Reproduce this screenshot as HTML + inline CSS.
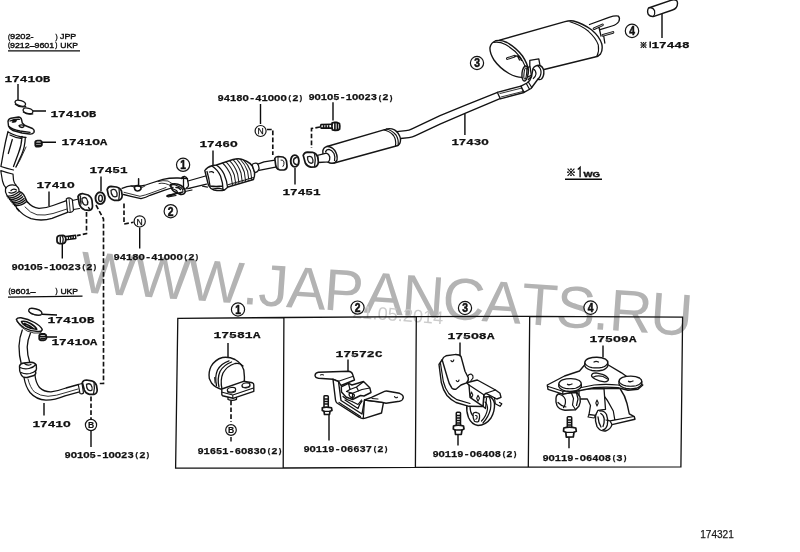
<!DOCTYPE html>
<html><head><meta charset="utf-8"><title>174321</title>
<style>
html,body{margin:0;padding:0;background:#fff;}
body{width:800px;height:552px;overflow:hidden;position:relative;font-family:"Liberation Sans",sans-serif;}
svg{position:absolute;left:0;top:0;display:block;will-change:transform}
.pn{font-family:"Liberation Mono",monospace;font-weight:bold;font-size:9.2px;fill:#111;stroke:#111;stroke-width:0.25px;}
.sm{font-family:"Liberation Sans",sans-serif;font-size:7.9px;fill:#111;stroke:#111;stroke-width:0.4px}
.pr{font-family:"Liberation Sans",sans-serif;font-size:6.4px;fill:#111;stroke:#111;stroke-width:0.35px}
.wm{font-family:"Liberation Sans",sans-serif;font-size:59px;fill:#b3b3b3;}
.dt{font-family:"Liberation Sans",sans-serif;font-size:18.2px;fill:#cbcbcb;}
.cn{font-family:"Liberation Sans",sans-serif;font-weight:bold;font-size:12px;fill:#111;stroke:#111;stroke-width:0.55px;text-anchor:middle}
.ln{fill:none;stroke:#111;stroke-width:1.2;stroke-linecap:round;stroke-linejoin:round}
.lt{fill:none;stroke:#1c1c1c;stroke-width:0.9;stroke-linecap:round;stroke-linejoin:round}
.wf{fill:#fff;stroke:#151515;stroke-width:1.1;stroke-linecap:round;stroke-linejoin:round}
.ld{fill:none;stroke:#0a0a0a;stroke-width:1.4}
.ds{fill:none;stroke:#111;stroke-width:1.65;stroke-dasharray:4.7 2.2}
.bx{fill:none;stroke:#111;stroke-width:1.3}
</style></head><body>
<svg width="800" height="552" viewBox="0 0 800 552">
<rect width="800" height="552" fill="#fff"/>
<!-- watermark -->
<g transform="rotate(4.1 84 292.5)">
<text class="wm" x="79.2 133.3 187.0 242.0 257.9 286.4 323.4 364.1 401.4 442.1 482.4 521.4 556.3 593.2 609.5 650.5" y="292.5">WWW.JAPANCATS.RU</text>
</g>
<text class="dt" x="352" y="317.7" transform="rotate(4.1 352 317.7)">21.05.2014</text>
<!-- boxes -->
<path class="bx" d="M177.8 318.4L284 317.5L416.3 316.6L529.7 316.4L682.6 317.1L680.9 466.9L528.3 467.2L415.4 467.3L283.2 468L175.6 468.2ZM283.9 317.5L283.2 468M416.3 316.6L415.4 467.3M529.7 316.4L528.3 467.2"/>
<!-- leaders -->
<path class="ld" d="M18 84V100M33 111H46M41.5 142.3H56M49 191.5V206M101 176.5V191M62.3 244V258.6M139.7 227.5V248.5M213 150.5V166M260.5 104V124M333 102.2V120.5M295 168V184.5M464.9 113.6V135M662 14V38M42 314.3L57 315M47 337H57M44 403V415.5M91 431V447M228 343V358M231 437V441.5M348 359.5V372.5M329 414V440.5M460 342.5V355.5M458 434V445.5M603 345.5V357.5M569 437V448.2"/>
<!-- dashed lines -->
<path class="ds" d="M86.5 212V233.6L77 235.6"/>
<path class="ds" d="M96 205L103.5 219V383.5H98"/>
<path class="ds" d="M124 203.5V224L133.5 222.3"/>
<path class="ds" d="M267 129.5H272.8V155"/>
<path class="ds" d="M320 127L311.5 128.5V148"/>
<path class="ds" d="M91 396.5V419"/>
<path class="ds" d="M231 400.5V422"/>
<!-- callout circles -->
<g class="wf" style="stroke-width:1.2">
<circle cx="183.1" cy="164.8" r="6.6"/><circle cx="170.7" cy="211.2" r="6.6"/>
<circle cx="477" cy="63" r="6.6"/><circle cx="632" cy="30.9" r="6.7"/>
<circle cx="238" cy="309.5" r="6.6"/><circle cx="357.5" cy="307.6" r="6.6"/>
<circle cx="465" cy="308" r="6.6"/><circle cx="590.6" cy="307.6" r="6.7"/>
<circle cx="139.7" cy="221.4" r="5.6"/><circle cx="260.6" cy="131" r="5.5"/>
<circle cx="91" cy="425" r="5.6"/><circle cx="231" cy="430" r="5.3"/>
</g>
<g class="cn">
<text transform="translate(183.1 169.15) scale(0.86 1)" x="0" y="0">1</text>
<text transform="translate(170.7 215.54999999999998) scale(0.86 1)" x="0" y="0">2</text>
<text transform="translate(477 67.35) scale(0.86 1)" x="0" y="0">3</text>
<text transform="translate(632 35.25) scale(0.86 1)" x="0" y="0">4</text>
<text transform="translate(238 313.85) scale(0.86 1)" x="0" y="0">1</text>
<text transform="translate(357.5 311.95000000000005) scale(0.86 1)" x="0" y="0">2</text>
<text transform="translate(465 312.35) scale(0.86 1)" x="0" y="0">3</text>
<text transform="translate(590.6 311.95000000000005) scale(0.86 1)" x="0" y="0">4</text>
<text x="139.7" y="224.5" style="font-size:8.6px;font-weight:normal;stroke-width:0.25px">N</text>
<text x="260.6" y="134.1" style="font-size:8.6px;font-weight:normal;stroke-width:0.25px">N</text>
<text x="91" y="428.2" style="font-size:8.6px;stroke-width:0.2px">B</text>
<text x="231" y="433.2" style="font-size:8.6px;stroke-width:0.2px">B</text>
</g>

<!-- upper gasket rings 17410B -->
<g class="wf" style="stroke-width:1.3">
<ellipse cx="20.3" cy="103.2" rx="5.4" ry="2.6" transform="rotate(18 20.3 103.2)"/>
<ellipse cx="28" cy="110.8" rx="5" ry="2.6" transform="rotate(15 28 110.8)"/>
</g>
<path class="ln" style="stroke-width:1.2" d="M15.3 104.3Q19.5 108 25.8 106.6M23.3 112Q27.5 115.3 32.8 113.8"/>
<!-- nut 17410A -->
<path class="wf" style="stroke-width:1.9" d="M35.3 142.2Q35.3 140.6 37.5 140.6H40.5Q42 141 41.8 143V145.2Q41 146.8 38.5 146.6H36.2Q35 146 35.3 144Z"/>
<path class="ln" style="stroke-width:1.4" d="M36 143.2H41.5M36.5 145.3H40.5"/>
<!-- manifold flange -->
<path class="wf" style="stroke-width:1.4" d="M8 121.5Q8.5 118.8 11 118.3L18.5 117Q21 117.2 21.5 119.5L22.3 123Q24 125.5 27.5 126.5L32.5 128.5Q34.8 130 34 132.3Q32.5 134.5 29.5 134L22 133L13 130.5Q9.5 129 8.5 126Z"/>
<path class="ln" style="stroke-width:1.3" d="M12.3 122Q13.5 120.3 16.3 120.6Q15.8 122.6 12.3 122ZM19 125.8Q20.5 124.2 24 125.3Q24.5 127 22 127.5Q19.5 127.3 19 125.8ZM9 126.5Q12 129.5 20 131L30 132.3M10 121Q14 119 19.5 119.3"/>
<!-- down pipes -->
<path class="ln" style="stroke-width:1.3" d="M8 131.5Q5.5 141 3.5 152L1 166M12.3 139.5L8.3 153.5M22 136.5Q21.5 146 18.5 153L13.5 166.5M25.3 137.5Q25 147 21.5 155L16 167M9 132.5Q16 136.5 26 137.5M10 135Q16 138.2 22 138.5"/>
<path class="ln" d="M1 166.5Q7 168.5 13.5 170M0.8 170.5Q6 172.5 12.5 174M0.8 171L2.5 181Q3.5 185.5 6 188M13 174L13.5 180Q14 183 16 185"/>
<path class="lt" d="M16 167L20 160L26 147"/>
<!-- flex joint -->
<path class="ln" style="stroke-width:1.3" d="M5.5 188.5Q9 183.5 16 185.5Q19.5 188 19 191.5M5.5 189Q4.8 192 7 195.5Q12 201 16 206.5M19 191.5Q23 192.5 25 197L27.5 202.5M7 196Q13 196.5 18.5 192M9.5 199.5Q16 200 21.5 195M12 202.5Q18.5 203.5 24 198.5M14.5 205.5Q21 206.5 26.5 201.5M16 206.5Q16.5 209 19 211M11 190.5Q13.5 188 16.5 190M8 197.8Q14.5 198.3 20 193.5M10.7 201Q17.2 201.8 22.7 196.8M13.2 204Q19.8 205 25.2 200M9 192.5Q12 194 16 191.5"/>
<!-- curved pipe -->
<path class="ln" style="stroke-width:1.3" d="M17.5 208.5Q22 215 31 218.7Q42 221.5 52 218.3L67.5 212.3M27.5 202Q32 207.5 39 208.3Q46 208.3 53 205.5L66.5 200.6"/>
<path class="lt" d="M25 207Q30 213 37 214.8Q45 215.8 53 213.5L67 209"/>
<!-- collar + neck -->
<path class="wf" style="stroke-width:1.2" d="M66.3 199Q68 197.5 70 198L72.3 199.5L73.5 210.5Q72 212.5 69.5 212.5L67.5 211.8Z"/>
<path class="lt" d="M69 198.3L70.3 212.3"/>
<path class="ln" d="M72.5 200.5L78.5 199M73.5 209.5L79.5 208.5"/>
<!-- flange -->
<path class="wf" style="stroke-width:1.7" d="M78 196.5Q79.5 193.5 83 193.7L88 195Q91.5 197 92 200.5L92.5 206Q92.5 210 89 210.3L84.5 209.8Q80.5 208 79.3 204Z"/>
<path class="lt" style="stroke-width:1.3" d="M82 198.5Q84.5 196.5 86.5 198.5Q88.5 201.5 87.5 204.5Q85.5 206 83.5 204Q81.5 201.5 82 198.5M80.5 196Q80 200 81 204M88.5 207.5L90 209.5"/>
<!-- ring gasket 17451 (left) -->
<ellipse class="wf" style="stroke-width:1.9" cx="100.2" cy="198.2" rx="4.7" ry="5.9"/>
<ellipse class="lt" style="stroke-width:1.4" cx="100.5" cy="198.3" rx="1.9" ry="3.2"/>
<!-- bolt 90105 (left) -->
<path class="wf" style="stroke-width:1.8" d="M57 238.3Q57 236 59.3 235.6L63 235.4Q65.5 236 65.8 238.5L65.6 241.3Q64.8 243.6 62.5 243.6H59.5Q57 243.2 57 240.8Z"/>
<path class="ln" style="stroke-width:1.3" d="M60.3 237V242.3M62.5 236.5Q63.8 238.5 62.8 242.5"/>
<path class="ln" style="stroke-width:1.4" d="M66 236.4L75.6 235.2L75.8 238.5L66 239.9M68.5 236.2V239.5M70.8 236V239.2M73.2 235.7V238.9"/>

<!-- middle pipe -->
<path class="wf" style="stroke-width:1.7" d="M107.2 189.5Q108 186.5 111 186.3L116.5 187Q120.5 188 121.5 191L122.2 195.5Q122 199.5 118.5 200.3L114 200.3Q110 199 108.5 195.5Z"/>
<path class="lt" style="stroke-width:1.3" d="M111 190.5Q113.5 188.5 115.8 190.3Q117.8 193 117 196Q115 197.8 112.8 196Q110.8 193.5 111 190.5M119 188.5Q120 194 118.8 199.5"/>
<path class="ln" style="stroke-width:1.3" d="M122 188.3Q127 186 132 185.8L141 186Q146 185.3 150 183.5L163 179.3Q170 177.8 178 178L187.5 178.6M123.5 194.5L131 196.3L141 198.6Q146 197.5 150 195.3L164 190.3L173 187.5"/>
<path class="lt" d="M124 192.3L140 196.3Q146 195 151 193L166 187.5M158 181.5Q163 180 168 181Q171 183.5 175 184.5M159 183.5Q165 182 172 186.5"/>
<!-- hanger post -->
<path class="ln" style="stroke-width:1.5" d="M138.6 178.8V186M134.5 187.5Q135 185 138.5 185.5Q141.5 186.3 141 189Q139.5 191.3 136.5 190.8Q134.3 190 134.5 187.5"/>
<path class="lt" d="M131 185.8L134.5 187.5M141 188L145 186"/>
<!-- bracket 2 -->
<path class="ln" style="stroke-width:1.2" d="M170 186Q172 184 175.5 185L181 187.5Q183.5 189.5 183 192L180 193.5M172 188.5L176.5 190.5Q178 192 177 193.5M167.5 196.3Q167 195 168.5 195L175 193.8L183 191.8M168 197L176 195.5M183.5 189L190 188.5M185 191.5L192 190"/>
<path class="ln" style="stroke-width:1.5" d="M170.5 184.5Q176 182.8 181 185.5Q185 188 185.3 192Q184 195 180.5 194.5L174 191.5Q171 189.5 170.5 184.5M176 187.5Q179 187 180.5 189.5"/>
<path class="ln" style="stroke-width:2.2" d="M167.3 196L174.5 194.3"/>
<!-- clamp -->
<path class="ln" style="stroke-width:1.3" d="M181.5 178.5Q182 176.3 184.5 176.5Q187 177 187.5 179.5L188.5 185Q188.5 187.5 186.5 188M183.5 177V188.5"/>
<!-- pipe to converter -->
<path class="ln" style="stroke-width:1.3" d="M188 181L205.5 176M188.8 188.3L206.5 184.2"/>
<path class="lt" style="stroke-width:1.2" d="M202.5 186.2L207.5 187.2"/>

<!-- catalytic converter -->
<path class="wf" style="stroke-width:1.4" d="M204.8 170.5Q207 167 212 165.7L216.5 165L233 159.5Q238 158.3 241.5 159.2L247 161.5Q250.5 163 252.5 166.5L254.5 172Q255 176 253.5 179.5L228 187L224.5 190Q220 191.3 214 190Q210 188.5 208.5 185.5Z"/>
<path class="ln" style="stroke-width:1.3" d="M216.5 165.3Q221 168 224 174Q227 181 227.5 187M212 166Q217.5 169.5 220.5 176Q223 183 223 189.5M207 171.5Q209 178 210 186M209.5 172Q212 171 213.5 172.5M210 186Q216 187 222.5 186M213 189Q218 187.5 224 189.5"/>
<path class="lt" style="stroke-width:1.05" d="M222.5 163Q228 168 231 176L232.5 185M226 161.8Q231.5 167 234.3 175L235.8 184M229.5 160.7Q235 166 237.6 174L239 183.2M233 159.7Q238.3 165 241 173L242.3 182.3M236.5 159Q241.7 164.3 244.3 172L245.6 181.4M240 159Q245 164 247.6 171.3L248.9 180.5M243.5 160.2Q248 164.5 250.6 171L251.8 179.8M228 184.8L253.5 177.5"/>
<!-- outlet cone and pipe -->
<path class="wf" style="stroke-width:1.3" d="M252 164.5Q254.5 162.5 257 163.3Q259.3 165.5 259 169Q258 172 255.5 172.5L254.5 172Z"/>
<path class="ln" style="stroke-width:1.3" d="M258.5 163.8L264 161.8L275 160.2M259 170.3L275.5 167.2"/>
<path class="wf" style="stroke-width:1.7" d="M274.8 158.5Q275.5 156.5 278 156.5L283 157Q285.8 158 286.5 161L287 166Q287 169.5 284 170L279.5 169.8Q276.5 169 275.8 166Z"/>
<path class="lt" style="stroke-width:1" d="M278 157V169.5M281 160Q283.3 159.5 284 162Q284.3 165 283 166.5"/>
<!-- ring gasket 17451 (right) -->
<ellipse class="wf" style="stroke-width:1.9" cx="294.8" cy="161" rx="4.1" ry="5.9"/>
<path class="lt" style="stroke-width:1.4" d="M296.3 157.5Q293.5 158 293.5 161Q293.5 164 296.3 164.5"/>

<!-- bolt 90105 (right) --><g transform="translate(0.6 0.5)">
<path class="wf" style="stroke-width:1.8" d="M331.5 122.5Q333 121.6 336.5 122L338.8 123Q339.5 125.5 339 128.5Q337.5 130 334.5 129.8L331.8 129.3Q331 126 331.5 122.5Z"/>
<path class="ln" style="stroke-width:1.6" d="M334.3 122V129.8M336.8 122.5V129.5M331.3 123.8L320.5 124Q319.3 125.8 320.5 127.6L331.3 127.6M323 124V127.6M325.5 124V127.6M328 124V127.6"/>
</g><!-- resonator body -->
<path class="wf" style="stroke-width:1.4" d="M327 146.5L385.5 129.3Q390 127.8 394.5 129.8Q399.5 133 400.5 139Q400.8 143.5 398 145.5L336 162.5Q331.5 163.8 328 161.5Z"/>
<path class="wf" style="stroke-width:1.4" d="M322.8 151Q323.5 147.3 327 146.5Q331.5 146.3 334.8 150.5Q337.8 155 337 160Q335.8 163 332 163.3Q327.5 163 324.8 159Q322.3 155 322.8 151Z"/>
<path class="ln" style="stroke-width:1.2" d="M325.5 152Q326.3 149.3 329 149.3Q332 150 334 153.5Q335.6 157.5 334.5 160.5M384 130Q389.5 131 393.5 135.5Q396.5 140 395.5 146M386.5 129Q392 130.3 396 135Q399 139.5 398 145.5"/>
<!-- neck + flange -->
<path class="wf" style="stroke-width:1.3" d="M317.5 155.3L326.5 153.2Q329 154 329.8 157Q330 160.3 328.5 161.8L318.5 162.5Z"/>
<path class="wf" style="stroke-width:1.7" d="M303.2 155.3Q304.3 152.5 307.5 152.2L312.5 152.3Q316.5 153.3 317.7 157L318.3 161.5Q318.3 166 315 166.8L311 167.2Q307 166.3 305.3 163Z"/>
<path class="lt" style="stroke-width:1.3" d="M307.5 157Q310 155.5 312 157.5Q313.5 160 312.8 162.5Q311 164 309 162.3Q307.3 160 307.5 157M314.5 153.5Q316 159.5 314.5 166.5"/>

<!-- long tail pipe 17430 -->
<path class="ln" style="stroke-width:1.3" d="M396.5 131.6L406 130.6Q409 130.3 412 128.8L440 115.6L465 105.4L497.5 92.3M400.6 138.5L409 137.6Q412.5 137.2 415.5 135.6L440 124.2L465 113.4L500 98.6"/>
<path class="wf" style="stroke-width:1.3" d="M497.3 92.3L521 86.2L524 92.5L500.3 98.8Z"/>
<path class="lt" d="M500 93.5L522 88M501 97L523.5 91.3"/>


<!-- rear muffler -->
<path class="ln" style="stroke-width:1.3" d="M589.5 24.5L609 17.3Q615.5 15.3 618.5 16.2Q620.3 18 618.8 21.5Q617 24.5 612 26L600 29.7"/>
<path class="ln" style="stroke-width:2.6" d="M594 28.7L602.5 24.9M603 35.3L613 32.4"/>
<path style="fill:none;stroke:#fff;stroke-width:0.7;stroke-linecap:round" d="M594 28.7L602.5 24.9M603 35.3L613 32.4"/>
<path class="ln" style="stroke-width:1.3" d="M599 27.5L601 36M603.8 36.5L604.8 43"/>
<path class="wf" style="stroke-width:1.4" d="M499.5 40.2L565 21.7Q569.5 20.4 573.5 21Q583 23.6 591.5 29.8Q599.5 36.5 601.8 44Q603 50 600.5 54Q598.5 56.5 595 57L540 70.5L528 77Z"/>
<path class="ln" style="stroke-width:1.1" d="M570 21.8Q580 24.6 588.5 31.3Q596 38 598.3 45Q599.3 51 597 56"/>
<path class="wf" style="stroke-width:1.4" d="M490 47.5Q491 42.5 495.5 40.8Q500.5 39.5 507 42.5Q516 47.5 522.5 56Q527.5 63.5 528.5 70.5Q528.5 76 524 77.3Q517 78 509 73.5Q499.5 68 494 60Q489.5 53 490 47.5Z"/>
<path class="ln" style="stroke-width:1.1" d="M493.5 42.5Q499 41.3 505.5 44.5Q514.5 49.5 520.5 57.5Q525.5 65 526.3 72"/>
<path class="ln" style="stroke-width:2.6" d="M507.3 58.6L514.5 56.2"/>
<path style="fill:none;stroke:#fff;stroke-width:0.7;stroke-linecap:round" d="M507.3 58.6L514.5 56.2"/>
<path class="ln" style="stroke-width:1.3" d="M514.5 56.2L518.5 55.8Q520.5 57.5 521.5 60.5M517.5 56L519.5 60"/>
<!-- inlet elbow + clamp -->
<path class="wf" style="stroke-width:1.3" d="M529.8 66V60.3L538.8 58.8L540 65.5"/>
<path class="wf" style="stroke-width:1.4" d="M533 68.5Q535 65.3 539 65.3Q543 66.3 543.8 71Q544.2 76 541.5 79Q539.5 80.3 538 79L531 88.5L524 92.3L521 86.2L527 83Q530.5 80.5 531.5 76.5Z"/>
<path class="ln" style="stroke-width:1.2" d="M538 66Q541.3 68.5 541 73Q540.5 77.5 538 79M533.5 69Q536 70.5 536 74Q535.5 77 533.3 78.5M528.5 82.3L531.8 87.5M526.3 83.5L529.5 89.3"/>
<ellipse class="wf" style="stroke-width:1.4" cx="525" cy="73.5" rx="3" ry="7.6" transform="rotate(6 525 73.5)"/>
<ellipse class="ln" style="stroke-width:1.1" cx="525.3" cy="73.5" rx="1.3" ry="5.6" transform="rotate(6 525.3 73.5)"/>
<path class="ln" style="stroke-width:1.3" d="M527.8 67.5L530 66.5L531.5 76.5L528.3 79.5"/>

<!-- tail pipe tip 17448 -->
<path class="wf" style="stroke-width:1.4" d="M648.5 8L671 0.3Q675 -0.8 677 1Q678.3 4 676.3 7.5Q675 9.3 672.5 10L654 16.3Q650.5 17 648.3 14.5Q646.8 11 648.5 8Z"/>
<path class="ln" style="stroke-width:1.2" d="M649.5 7.7Q653 7.3 654.6 10.8Q655.3 14.3 653.5 16.3"/>

<!-- lower pipe (9601-) -->
<ellipse class="wf" style="stroke-width:1.4" cx="35.3" cy="311.8" rx="6.8" ry="2.9" transform="rotate(16 35.3 311.8)"/>
<path class="lt" d="M29.5 312.5Q34 316 41 315"/>
<path class="wf" style="stroke-width:1.9" d="M39.3 335.5Q39.5 334 41.5 334H44.5Q46.3 334.5 46.3 336.3V338.5Q45.5 340.5 43.5 340.3H41Q39 339.8 39.3 337.5Z"/>
<path class="ln" style="stroke-width:1.5" d="M40 336.5H46M41 338.6H45"/>
<!-- pipe down -->
<path class="ln" style="stroke-width:1.3" d="M22.3 330Q19.5 337 19 346Q19 356 21.3 364M30.5 333Q27.5 340 27.2 347Q27.3 356 29.8 362.5"/>
<!-- flange -->
<path class="wf" style="stroke-width:1.4" d="M16.3 319.3Q17.5 317.5 21 317.8Q28 319 34.5 322.5Q40.5 326 42.2 329.3Q41.8 331.8 38 331.5Q31 331.5 24.5 328Q18 324 16.3 319.3Z"/>
<path class="ln" style="stroke-width:1.5" d="M21.5 321.5Q25 320.5 30.5 323.5Q35.5 326.5 36.8 329.3Q32 329.5 26.5 326.5Q22 323.8 21.5 321.5M24.5 323.5Q29 325 33.5 328.5"/>
<path class="lt" d="M17 321.5Q20 327 27 331Q34 334 40.5 333L42 330"/>
<!-- flex joint -->
<path class="wf" style="stroke-width:1.4" d="M19.5 366Q20.5 363.3 24 363L31 362.3Q35 362.5 36.3 365.5Q37 369 35.5 371.5Q36.5 374 34 375.5L27 377.5Q23 378 21.3 375Q19 371 19.5 366Z"/>
<path class="ln" style="stroke-width:1.2" d="M20 367.5Q24 369.5 29 368.5Q33.5 367.5 36 364.5M21 372.5Q25 374.5 30 373.5Q34 372.5 35.8 370.5M24.5 363.5Q27 366 31 364.5"/>
<!-- curved pipe -->
<path class="ln" style="stroke-width:1.3" d="M24 377.5Q25.5 386.5 30 392.5Q36 399.5 46 400.2Q55 400 65 395.8L79.5 391.8M35 375.3Q35.8 383 39.5 387.5Q44 392 51 391.8Q58 391 66 388L78.5 384.5"/>
<path class="lt" d="M28 379Q30 387.5 34.5 392Q40 396 48 396.3Q56 396 66 392.5L78 389"/>
<path class="wf" style="stroke-width:1.2" d="M78.3 384.5L82 383.5L83.5 393Q82 394.5 80 393.5Z"/>
<path class="wf" style="stroke-width:1.7" d="M82.3 382.5Q83.3 380 86.5 380L91.5 380.8Q95.5 382 96.5 385.5L97.2 390Q97 393.8 94 394.3L89.5 394.3Q85.5 393.5 84.3 390Z"/>
<path class="lt" style="stroke-width:1.3" d="M86.5 384.5Q89 382.8 91 384.8Q92.8 387.5 92 390Q90 391.5 88 389.8Q86.3 387.5 86.5 384.5M94 382Q95 388 93.5 394"/>

<!-- box1: clamp 17581A -->
<path class="wf" style="stroke-width:1.4" d="M209.3 378.5Q208.3 372 211 366.5Q215 359.5 222.5 357.5Q229 356.5 235 359.5Q241.5 363 243.8 370Q244.8 377 244.3 384L222 389.5Q215 387.5 211.5 383Z"/>
<path class="ln" style="stroke-width:1.3" d="M216.5 385.5Q214.5 377 217.5 370Q221 363.5 229 360.8M219 387Q217 378.5 220 371.5Q223.5 365 231.5 362M222 389Q220 380 223 373Q227 366 235 363.5Q240 362.5 243 366"/>
<path class="lt" d="M214.5 377.5L215 383"/>
<!-- base plate -->
<path class="wf" style="stroke-width:1.4" d="M221.8 389L243.5 381.3L252.5 382.8Q253.8 383.3 253.8 385V391.3L233 398.3L222.5 395.8Q221.5 395 221.8 393Z"/>
<path class="ln" style="stroke-width:1.1" d="M222.3 392.3L232.8 395L253.5 388M232.8 395V398"/>
<ellipse class="wf" style="stroke-width:1.2" cx="231.5" cy="389.8" rx="4.2" ry="2.3" transform="rotate(-8 231.5 389.8)"/>
<ellipse class="wf" style="stroke-width:1.2" cx="246" cy="385.2" rx="4" ry="2.2" transform="rotate(-8 246 385.2)"/>
<path class="lt" d="M227.5 390.5V392.3Q231 394.3 235.5 391.8V389.8M242.2 385.8V387.3Q245.5 389.2 249.8 387V385"/>
<path class="ln" style="stroke-width:1.3" d="M228 397.5V399.5Q232.5 401.3 236.5 399.3V397.5"/>

<!-- box2: bracket 17572C -->
<path class="wf" style="stroke-width:1.4" d="M315 375.5Q315.3 372.8 318.5 372.3L348.5 371.3Q351.5 371.5 352.5 374L354.5 380L341 385.5L338.5 381.3L333 379.2L318.5 378.3Q315.3 378 315 375.5Z"/>
<path class="lt" style="stroke-width:1.1" d="M320.5 375Q322 374 323.5 375M338.5 381.3L352.5 376.5"/>
<path class="wf" style="stroke-width:1.4" d="M333 379.3L338.5 381.5L341 400.5L362 414L364.5 400L383.5 402.3L381.5 413L364.5 418.3Q361.5 418.8 359.5 417.3L337 403Q335.8 402 335.5 400Z"/>
<path class="ln" style="stroke-width:1.2" d="M364.5 400L363.3 418.3M339 402.5L360.5 416.5M345 400L358 408.5Q359.5 404 362 401"/>
<!-- rubber block -->
<path class="wf" style="stroke-width:1.4" d="M341.3 386.8L348.5 383.3L352 385L363.5 381.5L369.8 387.8L371 392.5L364 396L360.5 395.5L352.5 399.5L346 397L341.5 392Z"/>
<path class="ln" style="stroke-width:1.2" d="M348.5 383.5L350 389.5L346.5 391.5L352.5 393.3L362 389.5L369.8 388M352.5 393.3V399.3M350 389.5L356.5 387L363.5 381.8M356.5 387L358.5 391"/>
<path class="ln" style="stroke-width:1.3" d="M349 394Q350 392.8 352 393.3L354 394.3Q354.8 395.5 354 397L351 397.5Q349 396.5 349 394Z"/>
<path class="ln" style="stroke-width:1.2" d="M343 396.5Q347 400.5 352 401.5L358 404.5L361.5 400"/>
<!-- right arm -->
<path class="wf" style="stroke-width:1.4" d="M371.5 397.3L384.5 391.3Q386 390.8 388 391.2L399.5 393.3Q403.3 394.8 403.3 397.5Q403 400.5 399.5 401.3L386 403.3L381.5 402.2L364.5 400Z"/>
<path class="lt" style="stroke-width:1.1" d="M394.5 396.5Q395.5 398.5 397.5 397.2M372 398.5L378 399"/>
<!-- bolt -->
<path class="ln" style="stroke-width:1.5" d="M324 396.5Q324 395.8 325 395.8H327.3Q328.3 395.8 328.3 396.8V407.5M324 396.5V407.5M324 399H328.3M324 401.5H328.3M324 404H328.3"/>
<path class="wf" style="stroke-width:1.7" d="M322.3 407.8Q326 406.3 331.5 407.8L332 410.5L330 411.3L329.5 414.3L324.5 414.5L324 411.3L322.3 410.5Z"/>
<path class="ln" style="stroke-width:1.3" d="M324 411.3H330"/>

<!-- box3: bracket 17508A -->
<!-- rubber ring behind -->
<path class="wf" style="stroke-width:1.4" d="M467 404Q466 411 468.5 417.5Q471.5 424.5 478 425.5Q485.5 425.5 491 418Q495 411 494.5 403.5Q493.5 398.5 489.5 396.5L470 399Z"/>
<path class="ln" style="stroke-width:1.2" d="M485 402Q487.5 404 487.5 409Q486.5 416 481.5 421M489.5 397.5Q491.5 402 490.5 409Q488.5 417 483 423M470 406Q470 412 472.5 415.5"/>
<path class="wf" style="stroke-width:1.3" d="M473 414Q474 411.8 476.5 412.5L479 413.5Q480 415 479.5 418L478.5 421.5Q476.5 422.5 474.5 421.3Q472.8 418 473 414Z"/>
<path class="lt" style="stroke-width:1.1" d="M475.5 415.5Q477 415.3 477.2 417Q477 419 475.8 419.3"/>
<!-- left edge thickness -->
<path class="wf" style="stroke-width:1.4" d="M442.3 359.5L439 364.5L441.3 382.5Q443 390 447 395.5Q450.5 399.5 456 402.5L469 406.3L483 406.5L484 395L470 385Z"/>
<path class="ln" style="stroke-width:1.2" d="M440.5 363.5L443.3 381.5Q445 388.5 448.8 393.5Q452 397 457 399.7L470 403.5"/>
<!-- top plate -->
<path class="wf" style="stroke-width:1.4" d="M442.2 360Q443 356.8 446 355.8L454.5 354.6Q459.5 354.3 461 356.5L465 371.3L468.3 377.8Q468.8 381 466.5 382.8L461 385L456.5 388.8Q454 390 452 388.3Q449 384.5 447.5 378Z"/>
<path class="lt" style="stroke-width:1.2" d="M451 360.5Q451.5 362 453 361.5L453.8 360M456.3 380.5Q457 382 458.5 381.3L459 380"/>
<!-- tab -->
<path class="ln" style="stroke-width:1.2" d="M467.5 376.5Q469 373.5 471.5 374.3Q473.5 375.5 473 378L471 380.5"/>
<!-- horizontal plate + side wall -->
<path class="wf" style="stroke-width:1.4" d="M466.7 382.7L477.3 380L495.5 390L500 393.3L501 397.3L496.8 399L486 393.3L483.8 394.8L483 406.3L470 397.3L469 385Z"/>
<path class="ln" style="stroke-width:1.2" d="M469 385L483.8 394.8M486 393.3L495.5 390M494.5 397.5L495.3 403.8L500 406.3L501.8 403.8L499.5 402.5M483 406.3L485.5 408.5L486.5 398"/>
<path class="lt" style="stroke-width:1.1" d="M471.5 392L472.8 395L471.5 398L470.3 395ZM478 395.3L479.5 398.3L478 401.3L476.7 398.3Z"/>
<!-- bolt -->
<path class="ln" style="stroke-width:1.5" d="M456.3 413Q456.3 412.2 457.3 412.2H459.5Q460.5 412.2 460.5 413.2V425.5M456.3 413V425.5M456.3 415.5H460.5M456.3 418H460.5M456.3 420.5H460.5M456.3 423H460.5"/>
<path class="wf" style="stroke-width:1.7" d="M453.5 426Q458 424.3 463.5 426L464 429L462 430L461.3 434.3L455.5 434.5L455 430L453.3 429Z"/>
<path class="ln" style="stroke-width:1.3" d="M455 430H462"/>

<!-- box4: bracket 17509A -->
<!-- rubber ring right (behind plate) -->
<path class="wf" style="stroke-width:1.4" d="M598 388.5L620 388.5Q625.3 396 627 403.5L629.3 413.8L634.3 416.7L635 419.3L612 424.6Q610.5 429.5 605.5 431Q600 431.5 597 426.5Q594.8 421 595.6 415Q596.5 410.5 599.5 409.2L604.8 408.9Q604 400 598 391Z"/>
<path class="ln" style="stroke-width:1.2" d="M600 390.5Q608 400 613.3 411L614.8 419.8M610 420.9L633.8 416.5M612 424.5L610 420.9L606 420"/>
<path class="ln" style="stroke-width:1.3" d="M599.8 411Q604 410.3 606.5 414.5Q608.5 419.5 607.3 425Q606 429.5 602.8 430M600.8 413.5Q603.5 414.8 604.2 418.8Q604.5 423 603 426.5M598 417Q598.5 423 601 427"/>
<!-- centre bracket -->
<path class="wf" style="stroke-width:1.3" d="M579 389L604 388.5L605.5 409.3L598 410.3L595.5 415.3L589 414.5L590.5 405.5L587.3 399L579 399Z"/>
<path class="lt" style="stroke-width:1.1" d="M597 400L598.3 403L597 406L595.8 403ZM589 414.5L588 417L594 418L595.5 415.3"/>
<!-- left roll -->
<path class="wf" style="stroke-width:1.4" d="M556 398Q556.5 394 560 393.5L577 392.5L580 397Q581 402 579 406L575.5 409.8L565 410.3Q559 409.5 557 405.5Q555.5 402 556 398Z"/>
<path class="ln" style="stroke-width:1.2" d="M559.5 394.5Q563.5 395 565.3 399.5Q566 404.5 563.5 407.5M571.5 393L573.5 398.5L572.5 405L575.5 409.5M576.5 393L578 399L576.5 405.5M558 402.5Q561 406 566 407"/>
<!-- plate -->
<path class="wf" style="stroke-width:1.4" d="M585 364.5L579.5 371L564.5 376L555 381L547.3 385L548 389.3L562.8 394.2L579 390.8L594 387.7Q606 386.5 618 387.7L628 390.2L638 389.2L642.8 385L628 377.5L621.5 372.8L607.5 364.5Z"/>
<path class="ln" style="stroke-width:1.2" d="M547.5 386.3L562.8 391.3L579 388L594 385Q606 383.8 618 385L627 387.3M562.8 391.3V394"/>
<!-- slot -->
<path class="wf" style="stroke-width:1.3" d="M591.5 375.5Q592 372.8 596 372.8L602.5 374.3Q607.5 376.3 608.5 379Q608.5 381.8 604.5 381.8Q599 381.3 595 379Q591.5 377 591.5 375.5Z"/>
<path class="lt" style="stroke-width:1.1" d="M593.5 377Q597.5 375 603 376.5L607.5 379"/>
<!-- pads -->
<path class="wf" style="stroke-width:1.4" d="M584.8 363Q584.8 360 588.5 358.5Q592.5 357.2 597 357.3Q602 357.5 605.5 359.2Q608 360.8 607.8 363V366Q606.5 369 602 370.3Q597 371.3 592 370.5Q586.5 369.3 584.8 366Z"/>
<path class="ln" style="stroke-width:1.1" d="M584.8 363Q586.5 366.5 592 367.6Q597 368.3 602 367.4Q606.5 366.2 607.8 363"/>
<path class="lt" style="stroke-width:1.3" d="M594 362Q596 360.8 598.5 362"/>
<path class="wf" style="stroke-width:1.4" d="M558.8 384.3Q558.8 381.3 562.5 379.8Q566.5 378.5 571 378.6Q576 378.8 579.3 380.5Q581.5 382 581.3 384.3V386.5Q580 389.5 575.5 390.8Q570.5 391.8 565.5 391Q560.5 389.8 558.8 386.5Z"/>
<path class="ln" style="stroke-width:1.1" d="M558.8 384.3Q560.5 387.3 565.5 388.4Q570.5 389.1 575.5 388.2Q580 387 581.3 384.3"/>
<path class="lt" style="stroke-width:1.3" d="M567.5 384.3Q569.5 385.3 572 384"/>
<path class="wf" style="stroke-width:1.4" d="M619 381.5Q619 378.7 622.5 377.3Q626.5 376 631 376.1Q636 376.3 639.5 378Q642 379.5 641.8 381.8V384Q640.5 387 636 388.3Q631 389.3 626 388.5Q620.8 387.3 619 384Z"/>
<path class="ln" style="stroke-width:1.1" d="M619 381.5Q620.8 384.8 626 385.9Q631 386.6 636 385.7Q640.5 384.5 641.8 381.8"/>
<path class="lt" style="stroke-width:1.3" d="M628.5 381.3Q630.5 382.3 633 381"/>
<!-- bolt -->
<path class="ln" style="stroke-width:1.5" d="M567.3 417.5Q567.3 416.7 568.3 416.7H570.7Q571.7 416.7 571.7 417.7V427.5M567.3 417.5V427.5M567.3 420H571.7M567.3 422.5H571.7M567.3 425H571.7"/>
<path class="wf" style="stroke-width:1.7" d="M563.8 428Q569 426.3 575.8 428L576.3 431.3L574 432.3L573.3 437L566.3 437.2L565.8 432.3L563.5 431.3Z"/>
<path class="ln" style="stroke-width:1.3" d="M565.8 432.3H574"/>

<!-- labels -->
<text class="pn" x="4.4" y="81.6" textLength="38.5" lengthAdjust="spacingAndGlyphs">1741O</text>
<text class="pn" x="43.1" y="81.6" textLength="7.2" lengthAdjust="spacingAndGlyphs" style="font-size:8.7px">B</text>
<text class="pn" x="50.4" y="116.6" textLength="38.5" lengthAdjust="spacingAndGlyphs">1741O</text>
<text class="pn" x="89.1" y="116.6" textLength="7.2" lengthAdjust="spacingAndGlyphs" style="font-size:8.7px">B</text>
<text class="pn" x="61.4" y="144.9" textLength="38.5" lengthAdjust="spacingAndGlyphs">1741O</text>
<text class="pn" x="100.1" y="144.9" textLength="7.2" lengthAdjust="spacingAndGlyphs" style="font-size:8.7px">A</text>
<text class="pn" x="36.4" y="187.9" textLength="38.2" lengthAdjust="spacingAndGlyphs">1741O</text>
<text class="pn" x="89.4" y="173.4" textLength="38.2" lengthAdjust="spacingAndGlyphs">17451</text>
<text class="pn" x="11.4" y="269.6" textLength="69.3" lengthAdjust="spacingAndGlyphs">9O1O5-1OO23</text>
<text class="pn" x="81.6" y="268.7" textLength="4.6" lengthAdjust="spacingAndGlyphs" style="font-size:7.6px">(</text>
<text class="pn" x="86.2" y="269.6" textLength="6.3" lengthAdjust="spacingAndGlyphs">2</text>
<text class="pn" x="92.6" y="268.7" textLength="4.6" lengthAdjust="spacingAndGlyphs" style="font-size:7.6px">)</text>
<text class="pn" x="113.4" y="259.6" textLength="69.3" lengthAdjust="spacingAndGlyphs">9418O-41OOO</text>
<text class="pn" x="183.6" y="258.7" textLength="4.6" lengthAdjust="spacingAndGlyphs" style="font-size:7.6px">(</text>
<text class="pn" x="188.2" y="259.6" textLength="6.3" lengthAdjust="spacingAndGlyphs">2</text>
<text class="pn" x="194.6" y="258.7" textLength="4.6" lengthAdjust="spacingAndGlyphs" style="font-size:7.6px">)</text>
<text class="pn" x="199.4" y="147.1" textLength="38.2" lengthAdjust="spacingAndGlyphs">1746O</text>
<text class="pn" x="217.4" y="101.1" textLength="69.3" lengthAdjust="spacingAndGlyphs">9418O-41OOO</text>
<text class="pn" x="287.6" y="100.2" textLength="4.6" lengthAdjust="spacingAndGlyphs" style="font-size:7.6px">(</text>
<text class="pn" x="292.2" y="101.1" textLength="6.3" lengthAdjust="spacingAndGlyphs">2</text>
<text class="pn" x="298.6" y="100.2" textLength="4.6" lengthAdjust="spacingAndGlyphs" style="font-size:7.6px">)</text>
<text class="pn" x="308.4" y="100.4" textLength="68.5" lengthAdjust="spacingAndGlyphs">9O1O5-1OO23</text>
<text class="pn" x="377.8" y="99.5" textLength="4.6" lengthAdjust="spacingAndGlyphs" style="font-size:7.6px">(</text>
<text class="pn" x="382.3" y="100.4" textLength="6.3" lengthAdjust="spacingAndGlyphs">2</text>
<text class="pn" x="388.7" y="99.5" textLength="4.6" lengthAdjust="spacingAndGlyphs" style="font-size:7.6px">)</text>
<text class="pn" x="282.4" y="195.1" textLength="38.2" lengthAdjust="spacingAndGlyphs">17451</text>
<text class="pn" x="451.4" y="145.1" textLength="37.2" lengthAdjust="spacingAndGlyphs">1743O</text>
<text class="pn" x="651.4" y="47.6" textLength="38.2" lengthAdjust="spacingAndGlyphs">17448</text>
<text class="pn" x="47.4" y="322.6" textLength="39.3" lengthAdjust="spacingAndGlyphs">1741O</text>
<text class="pn" x="86.9" y="322.6" textLength="7.4" lengthAdjust="spacingAndGlyphs" style="font-size:8.7px">B</text>
<text class="pn" x="51.4" y="344.6" textLength="38.5" lengthAdjust="spacingAndGlyphs">1741O</text>
<text class="pn" x="90.1" y="344.6" textLength="7.2" lengthAdjust="spacingAndGlyphs" style="font-size:8.7px">A</text>
<text class="pn" x="32.4" y="426.6" textLength="38.2" lengthAdjust="spacingAndGlyphs">1741O</text>
<text class="pn" x="64.4" y="457.6" textLength="69.3" lengthAdjust="spacingAndGlyphs">9O1O5-1OO23</text>
<text class="pn" x="134.6" y="456.7" textLength="4.6" lengthAdjust="spacingAndGlyphs" style="font-size:7.6px">(</text>
<text class="pn" x="139.2" y="457.6" textLength="6.3" lengthAdjust="spacingAndGlyphs">2</text>
<text class="pn" x="145.6" y="456.7" textLength="4.6" lengthAdjust="spacingAndGlyphs" style="font-size:7.6px">)</text>
<text class="pn" x="213.4" y="337.6" textLength="39.3" lengthAdjust="spacingAndGlyphs">17581</text>
<text class="pn" x="252.9" y="337.6" textLength="7.4" lengthAdjust="spacingAndGlyphs" style="font-size:8.7px">A</text>
<text class="pn" x="197.4" y="453.7" textLength="68.5" lengthAdjust="spacingAndGlyphs">91651-6O83O</text>
<text class="pn" x="266.8" y="452.8" textLength="4.6" lengthAdjust="spacingAndGlyphs" style="font-size:7.6px">(</text>
<text class="pn" x="271.3" y="453.7" textLength="6.3" lengthAdjust="spacingAndGlyphs">2</text>
<text class="pn" x="277.7" y="452.8" textLength="4.6" lengthAdjust="spacingAndGlyphs" style="font-size:7.6px">)</text>
<text class="pn" x="335.4" y="356.6" textLength="39.3" lengthAdjust="spacingAndGlyphs">17572</text>
<text class="pn" x="374.9" y="356.6" textLength="7.4" lengthAdjust="spacingAndGlyphs" style="font-size:8.7px">C</text>
<text class="pn" x="303.4" y="451.9" textLength="68.5" lengthAdjust="spacingAndGlyphs">9O119-O6637</text>
<text class="pn" x="372.8" y="451.0" textLength="4.6" lengthAdjust="spacingAndGlyphs" style="font-size:7.6px">(</text>
<text class="pn" x="377.3" y="451.9" textLength="6.3" lengthAdjust="spacingAndGlyphs">2</text>
<text class="pn" x="383.7" y="451.0" textLength="4.6" lengthAdjust="spacingAndGlyphs" style="font-size:7.6px">)</text>
<text class="pn" x="447.4" y="339.1" textLength="39.3" lengthAdjust="spacingAndGlyphs">175O8</text>
<text class="pn" x="486.9" y="339.1" textLength="7.4" lengthAdjust="spacingAndGlyphs" style="font-size:8.7px">A</text>
<text class="pn" x="432.4" y="456.6" textLength="68.5" lengthAdjust="spacingAndGlyphs">9O119-O64O8</text>
<text class="pn" x="501.8" y="455.7" textLength="4.6" lengthAdjust="spacingAndGlyphs" style="font-size:7.6px">(</text>
<text class="pn" x="506.3" y="456.6" textLength="6.3" lengthAdjust="spacingAndGlyphs">2</text>
<text class="pn" x="512.7" y="455.7" textLength="4.6" lengthAdjust="spacingAndGlyphs" style="font-size:7.6px">)</text>
<text class="pn" x="589.4" y="342.1" textLength="39.3" lengthAdjust="spacingAndGlyphs">175O9</text>
<text class="pn" x="628.9" y="342.1" textLength="7.4" lengthAdjust="spacingAndGlyphs" style="font-size:8.7px">A</text>
<text class="pn" x="542.4" y="460.6" textLength="68.5" lengthAdjust="spacingAndGlyphs">9O119-O64O8</text>
<text class="pn" x="611.8" y="459.7" textLength="4.6" lengthAdjust="spacingAndGlyphs" style="font-size:7.6px">(</text>
<text class="pn" x="616.3" y="460.6" textLength="6.3" lengthAdjust="spacingAndGlyphs">3</text>
<text class="pn" x="622.7" y="459.7" textLength="4.6" lengthAdjust="spacingAndGlyphs" style="font-size:7.6px">)</text>
<text class="pr" x="8" y="38.6">(</text><text class="sm" x="10.1" y="39.3" textLength="23.6" lengthAdjust="spacingAndGlyphs">9202-</text><text class="pr" x="55.4" y="38.6">)</text><text class="sm" x="60" y="39.3" textLength="16.3" lengthAdjust="spacingAndGlyphs">JPP</text>
<text class="pr" x="8" y="47.1">(</text><text class="sm" x="10.1" y="47.8" textLength="44" lengthAdjust="spacingAndGlyphs">9212–9601</text><text class="pr" x="55.2" y="47.1">)</text><text class="sm" x="60.2" y="47.8" textLength="17.7" lengthAdjust="spacingAndGlyphs">UKP</text>
<path class="ld" d="M8 50.9H80"/>
<text class="pr" x="8.6" y="293.1">(</text><text class="sm" x="10.4" y="293.8" textLength="25.2" lengthAdjust="spacingAndGlyphs">9601–</text><text class="pr" x="55.5" y="293.1">)</text><text class="sm" x="60.4" y="293.8" textLength="17.7" lengthAdjust="spacingAndGlyphs">UKP</text>
<path class="ld" d="M8 297.1L82.5 296.1"/>
<g transform="translate(643.5 45)"><path d="M-2.8 -2.8L2.8 2.8M-2.8 2.8L2.8 -2.8" style="stroke:#111;stroke-width:1.1;fill:none"/><circle cx="0" cy="-2.3" r="0.75"/><circle cx="0" cy="2.3" r="0.75"/><circle cx="-2.3" cy="0" r="0.75"/><circle cx="2.3" cy="0" r="0.75"/></g>
<path d="M650.2 41.5V47.8" style="stroke:#111;stroke-width:1.5;fill:none"/>
<g transform="translate(571 172.2)"><path d="M-3.4 -3.6L3.4 3.6M-3.4 3.6L3.4 -3.6" style="stroke:#111;stroke-width:1.1;fill:none"/><circle cx="0" cy="-3" r="0.85"/><circle cx="0" cy="3" r="0.85"/><circle cx="-3" cy="0" r="0.85"/><circle cx="3" cy="0" r="0.85"/></g>
<path d="M577.8 169.5L580.1 167.3V177.3" style="stroke:#111;stroke-width:1.4;fill:none"/>
<text class="sm" x="583.5" y="177.3" style="font-size:7.4px;font-weight:bold" textLength="16.5" lengthAdjust="spacingAndGlyphs">WG</text>
<path class="ld" d="M565 179.3H602"/>
<text x="700.2" y="538.1" style="font-family:'Liberation Sans',sans-serif;font-size:11.2px;fill:#1a1a1a;stroke:#1a1a1a;stroke-width:0.25px" textLength="33.6" lengthAdjust="spacingAndGlyphs">174321</text>
</svg>
</body></html>
